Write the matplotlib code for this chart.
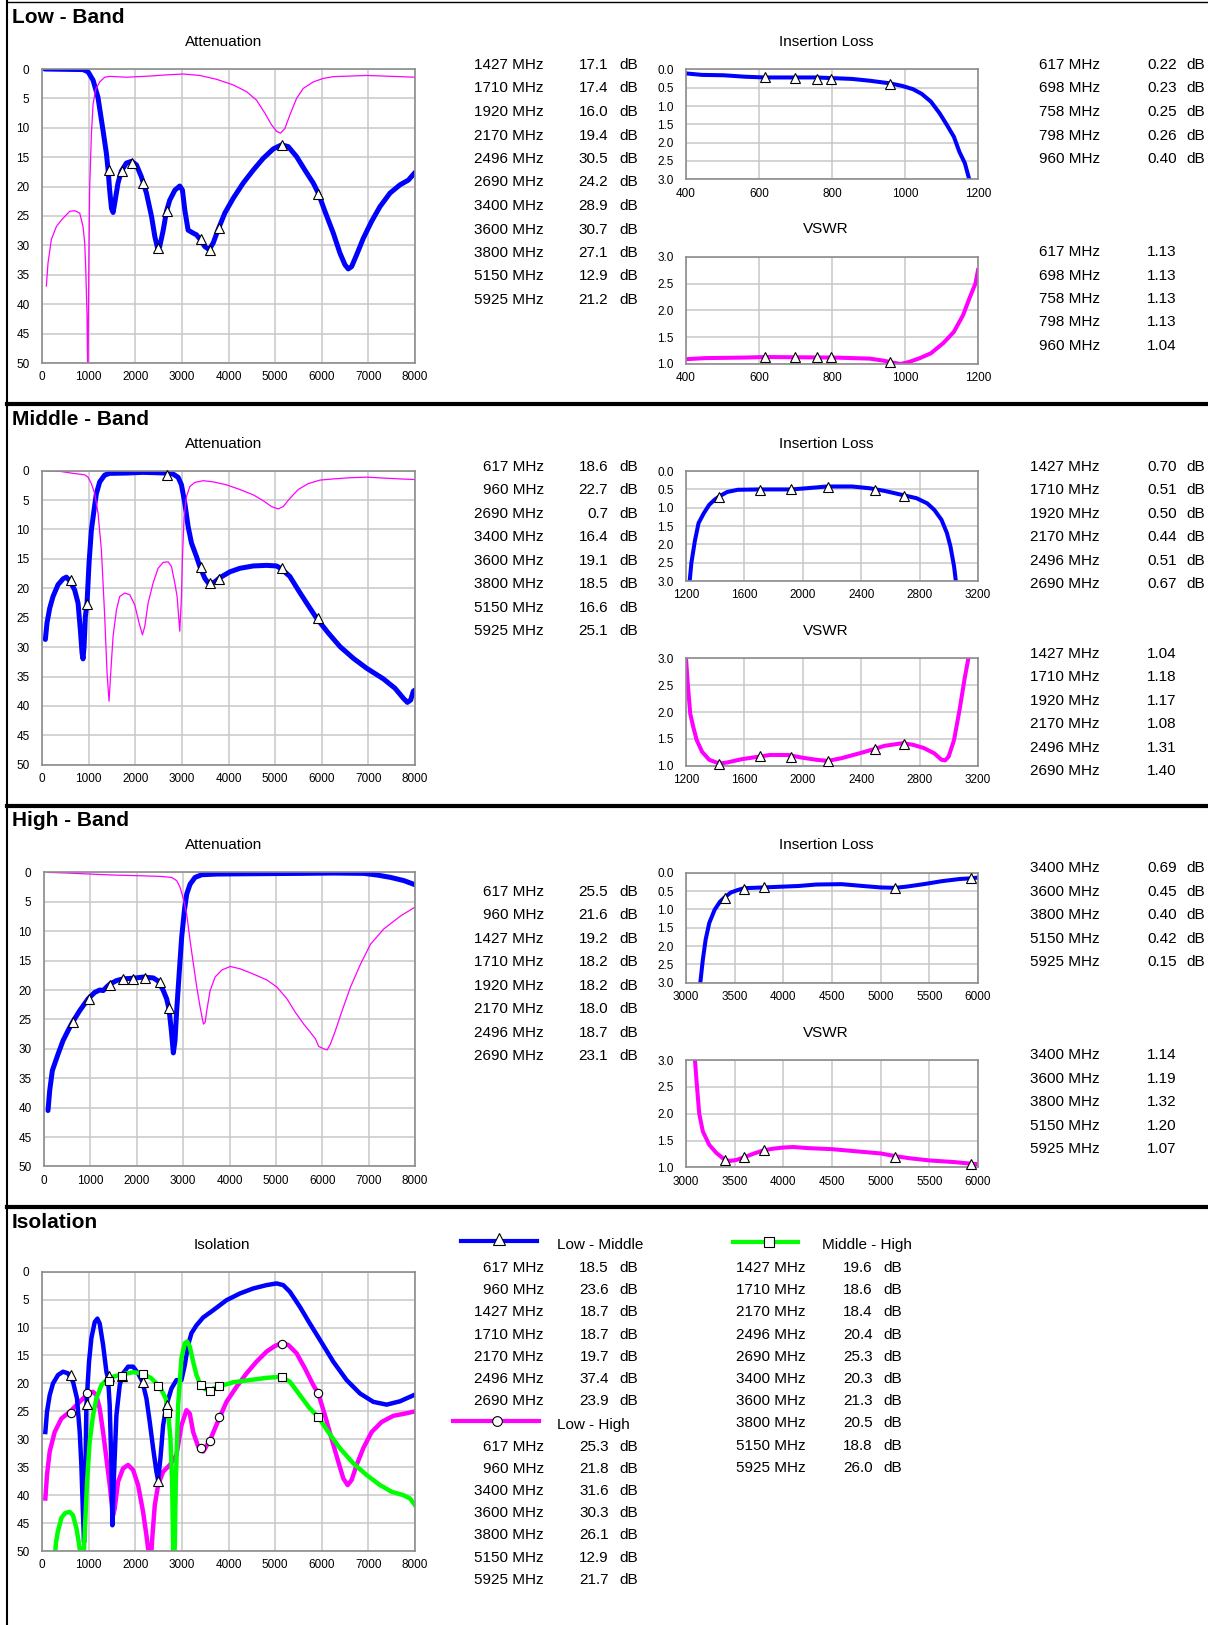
import matplotlib
matplotlib.use("Agg")
import matplotlib.pyplot as plt

plt.rcParams['font.family'] = ['Liberation Sans', 'DejaVu Sans']

W, H = 1208, 1625
BAND_DY = 401.7

# ---------------- Low band ----------------
low_att_f = [60, 880, 990, 1095, 1200, 1310, 1380, 1417, 1450, 1490, 1525, 1560, 1630, 1700, 1810, 1920, 2025, 2130,
             2240, 2350, 2420, 2480, 2525, 2600, 2670, 2740, 2850, 2955, 3012, 3063, 3134, 3240, 3313, 3385, 3492, 3585,
             3671, 3778, 3921, 4100, 4315, 4530, 4744, 4959, 5138, 5281, 5460, 5639, 5818, 5925, 6068, 6247, 6390, 6498,
             6569, 6641, 6748, 6891, 7070, 7249, 7464, 7678, 7857, 8000]
low_att_v = [0.0, 0.1, 0.5, 1.9, 4.8, 10.5, 14.3, 17.1, 20.5, 23.7, 24.4, 22.8, 19.4, 17.4, 16.0, 15.7, 16.3, 18.3,
             21.1, 25.1, 28.5, 30.5, 30.2, 27.4, 24.2, 22.3, 20.6, 19.9, 20.6, 24.0, 27.4, 27.9, 28.2, 28.9, 30.2, 30.7,
             29.6, 27.3, 24.5, 22.0, 19.4, 17.2, 15.2, 13.6, 12.9, 13.2, 14.9, 17.2, 19.4, 21.1, 24.2, 27.9, 31.3, 33.3,
             34.0, 33.6, 31.6, 28.8, 25.9, 23.4, 21.1, 19.7, 18.9, 17.6]
low_opp_f = [93, 129, 200, 308, 415, 487, 594, 701, 809, 880, 916, 937, 966, 985, 995, 1009, 1023, 1060, 1095, 1150,
             1238, 1345, 1452, 1810, 2311, 2669, 3027, 3385, 3743, 4100, 4387, 4601, 4780, 4923, 5031, 5117, 5210, 5317,
             5460, 5603, 5818, 6032, 6247, 6605, 6963, 7321, 7678, 8000]
low_opp_v = [36.9, 33.0, 29.0, 26.8, 25.7, 25.1, 24.2, 24.1, 24.5, 26.8, 29.6, 33.6, 42.0, 56.0, 42.0, 30.0, 20.0, 11.0,
             6.0, 3.5, 2.2, 1.4, 1.25, 1.4, 1.2, 1.0, 0.85, 1.1, 1.75, 2.7, 3.85, 5.3, 7.5, 9.5, 10.6, 10.9, 10.1, 7.8,
             5.0, 3.3, 2.2, 1.6, 1.3, 1.2, 1.1, 1.2, 1.3, 1.4]
low_att_mk_f = [1427, 1710, 1920, 2170, 2496, 2690, 3400, 3600, 3800, 5150, 5925]
low_att_mk_v = [17.1, 17.4, 16.0, 19.4, 30.5, 24.2, 28.9, 30.7, 27.1, 12.9, 21.2]

low_il_f = [400, 444, 503, 562, 615, 696, 757, 806, 855, 904, 958, 992, 1022, 1046, 1071, 1095, 1115, 1134, 1149,
            1164, 1176, 1185]
low_il_v = [0.11, 0.15, 0.16, 0.20, 0.22, 0.22, 0.22, 0.24, 0.26, 0.31, 0.38, 0.45, 0.54, 0.67, 0.88, 1.20, 1.52, 1.84,
            2.25, 2.56, 3.00, 3.3]
low_vs_f = [400, 454, 562, 615, 806, 904, 943, 963, 988, 1012, 1041, 1071, 1105, 1134, 1159, 1178, 1193, 1200]
low_vs_v = [1.09, 1.11, 1.12, 1.13, 1.12, 1.10, 1.06, 1.03, 1.00, 1.04, 1.11, 1.20, 1.39, 1.60, 1.91, 2.25, 2.50, 2.75]
low_mk_f = [617, 698, 758, 798, 960]
low_il_mk = [0.22, 0.23, 0.25, 0.26, 0.40]
low_vs_mk = [1.13, 1.13, 1.13, 1.13, 1.04]

# ---------------- Middle band ----------------
mid_att_f = [72, 107, 165, 236, 343, 451, 522, 594, 701, 773, 823, 859, 880, 902, 930, 966, 1009, 1059, 1116, 1166,
             1238, 1345, 1452, 1810, 2168, 2669, 2812, 2920, 2991, 3063, 3134, 3206, 3313, 3385, 3492, 3585, 3707, 3814,
             4029, 4244, 4530, 4816, 5031, 5138, 5317, 5496, 5675, 5890, 6140, 6390, 6676, 6963, 7321, 7571, 7750, 7836,
             7907, 7964, 8000]
mid_att_v = [28.7, 25.9, 23.4, 21.4, 19.4, 18.4, 18.1, 18.7, 20.3, 22.5, 27.1, 31.0, 32.0, 29.9, 24.8, 22.5, 15.7, 10.1,
             6.7, 3.9, 1.9, 0.74, 0.45, 0.4, 0.28, 0.4, 0.57, 1.13, 2.4, 5.5, 9.5, 12.3, 14.6, 16.3, 18.3, 19.3, 18.9,
             18.2, 17.2, 16.6, 16.2, 16.1, 16.2, 16.7, 18.0, 20.3, 22.5, 25.1, 27.6, 29.9, 31.9, 33.6, 35.4, 37.0, 38.7,
             39.4, 39.0, 37.5, 37.3]
mid_opp_f = [72, 379, 665, 916, 988, 1059, 1131, 1202, 1274, 1345, 1395, 1438, 1474, 1524, 1596, 1667, 1775, 1882,
             1989, 2082, 2154, 2204, 2276, 2383, 2490, 2598, 2705, 2777, 2848, 2898, 2955, 2991, 3013, 3048, 3099, 3170,
             3277, 3456, 3671, 3957, 4244, 4530, 4744, 4923, 5067, 5174, 5317, 5496, 5710, 5961, 6247, 6605, 6963, 7321,
             7678, 8000]
mid_opp_v = [0.0, 0.1, 0.45, 0.7, 1.1, 2.2, 3.9, 7.2, 13.5, 24.8, 34.4, 39.2, 34.4, 28.2, 23.7, 21.4, 20.8, 21.1,
             22.8, 25.9, 27.9, 26.5, 22.5, 19.1, 16.6, 15.6, 15.5, 16.3, 19.1, 21.4, 27.3, 21.4, 14.6, 7.8, 4.4, 2.7,
             2.0, 1.7, 1.9, 2.4, 3.2, 4.1, 5.1, 6.1, 6.5, 6.1, 4.7, 3.2, 2.2, 1.6, 1.4, 1.2, 1.1, 1.25, 1.4, 1.5]
mid_att_mk_f = [617, 960, 2690, 3400, 3600, 3800, 5150, 5925]
mid_att_mk_v = [18.6, 22.7, 0.7, 16.4, 19.1, 18.5, 16.6, 25.1]

mid_il_f = [1218, 1237, 1261, 1286, 1322, 1359, 1396, 1428, 1482, 1555, 1702, 1922, 2020, 2167, 2338, 2461, 2559,
            2681, 2779, 2852, 2901, 2950, 2987, 3011, 3036, 3048, 3055]
mid_il_v = [3.3, 2.5, 1.9, 1.42, 1.15, 0.92, 0.78, 0.69, 0.57, 0.51, 0.50, 0.50, 0.47, 0.42, 0.42, 0.47, 0.54, 0.65,
            0.74, 0.88, 1.06, 1.33, 1.69, 2.05, 2.6, 3.0, 3.3]
mid_vs_f = [1200, 1212, 1229, 1249, 1273, 1310, 1359, 1428, 1482, 1579, 1702, 1775, 1898, 1996, 2094, 2172, 2265,
            2387, 2490, 2559, 2686, 2754, 2828, 2901, 2950, 2975, 2999, 3036, 3073, 3110, 3134, 3150]
mid_vs_v = [3.0, 2.53, 1.97, 1.73, 1.48, 1.26, 1.11, 1.04, 1.06, 1.12, 1.17, 1.20, 1.20, 1.15, 1.11, 1.09, 1.14,
            1.23, 1.31, 1.37, 1.42, 1.39, 1.33, 1.23, 1.11, 1.10, 1.17, 1.48, 2.03, 2.65, 3.0, 3.2]
mid_mk_f = [1427, 1710, 1920, 2170, 2496, 2690]
mid_il_mk = [0.70, 0.51, 0.50, 0.44, 0.51, 0.67]
mid_vs_mk = [1.04, 1.18, 1.17, 1.08, 1.31, 1.40]

# ---------------- High band ----------------
high_att_f = [86, 123, 180, 303, 411, 519, 613, 771, 951, 1095, 1204, 1276, 1348, 1420, 1564, 1708, 1924, 2140, 2357,
              2465, 2573, 2645, 2695, 2746, 2789, 2825, 2861, 2919, 2969, 3027, 3077, 3150, 3257, 3402, 3726, 4447,
              5528, 6248, 6897, 7185, 7474, 7762, 8000]
high_att_v = [40.5, 37.1, 33.7, 30.9, 28.6, 26.9, 25.5, 23.5, 21.5, 20.4, 20.0, 20.1, 19.5, 19.0, 18.4, 18.1, 18.0,
              17.8, 17.95, 18.5, 20.1, 21.5, 23.2, 26.9, 30.7, 28.6, 23.5, 16.7, 11.0, 6.5, 3.7, 2.0, 0.85, 0.4, 0.28,
              0.23, 0.17, 0.11, 0.17, 0.45, 0.85, 1.4, 2.1]
high_opp_f = [86, 483, 987, 1492, 2068, 2501, 2753, 2861, 2933, 3005, 3077, 3150, 3222, 3294, 3366, 3438, 3474, 3510,
              3582, 3690, 3834, 4014, 4231, 4519, 4807, 5023, 5239, 5420, 5600, 5744, 5852, 5924, 6032, 6104, 6176,
              6284, 6429, 6609, 6825, 7041, 7329, 7690, 8000]
high_opp_v = [0.0, 0.1, 0.28, 0.45, 0.57, 0.68, 0.85, 1.4, 2.5, 4.5, 7.1, 11.6, 15.6, 19.5, 22.9, 25.8, 25.5, 23.5,
              20.1, 17.8, 16.6, 16.0, 16.4, 17.3, 18.3, 19.5, 21.5, 23.8, 25.8, 27.2, 28.3, 29.6, 30.0, 30.2, 29.2,
              26.9, 23.5, 19.5, 15.6, 12.2, 9.6, 7.4, 5.9]
high_att_mk_f = [617, 960, 1427, 1710, 1920, 2170, 2496, 2690]
high_att_mk_v = [25.5, 21.6, 19.2, 18.2, 18.2, 18.0, 18.7, 23.1]

high_il_f = [3140, 3147, 3173, 3202, 3239, 3294, 3349, 3393, 3459, 3532, 3599, 3790, 3973, 4157, 4340, 4597, 4818,
             5001, 5148, 5258, 5442, 5626, 5809, 5926, 6000]
high_il_v = [3.3, 3.0, 2.37, 1.82, 1.37, 1.01, 0.79, 0.68, 0.54, 0.47, 0.42, 0.40, 0.38, 0.36, 0.32, 0.31, 0.36, 0.40,
             0.41, 0.38, 0.31, 0.23, 0.17, 0.15, 0.13]
high_vs_f = [3085, 3092, 3110, 3136, 3173, 3239, 3312, 3393, 3450, 3520, 3600, 3700, 3800, 3900, 4000, 4100, 4250,
             4500, 4750, 5000, 5150, 5300, 5500, 5750, 5925, 6000]
high_vs_v = [3.2, 3.0, 2.57, 2.0, 1.67, 1.42, 1.27, 1.15, 1.12, 1.14, 1.19, 1.26, 1.32, 1.35, 1.37, 1.38, 1.36, 1.34,
             1.30, 1.26, 1.21, 1.17, 1.13, 1.10, 1.07, 1.06]
high_mk_f = [3400, 3600, 3800, 5150, 5925]
high_il_mk = [0.69, 0.45, 0.40, 0.42, 0.15]
high_vs_mk = [1.14, 1.19, 1.32, 1.20, 1.07]

# ---------------- Isolation ----------------
iso_lm_f = [72, 107, 165, 236, 343, 451, 558, 665, 751, 809, 844, 880, 902, 923, 952, 1009, 1059, 1131, 1188, 1238,
            1310, 1381, 1417, 1452, 1488, 1510, 1538, 1596, 1667, 1739, 1846, 1954, 2061, 2154, 2240, 2311, 2383, 2454,
            2490, 2540, 2598, 2669, 2777, 2884, 2991, 3063, 3134, 3206, 3313, 3456, 3671, 3957, 4244, 4530, 4816,
            5031, 5174, 5317, 5532, 5746, 5961, 6247, 6533, 6820, 7106, 7392, 7678, 8000]
iso_lm_v = [28.7, 25.1, 22.1, 20.0, 18.5, 17.9, 18.2, 19.7, 22.7, 28.7, 34.6, 43.6, 48.4, 40.6, 23.9, 16.1, 11.9, 9.0,
            8.4, 9.3, 13.1, 17.9, 19.1, 23.9, 34.6, 45.4, 37.6, 25.7, 20.3, 18.2, 17.0, 17.0, 18.2, 19.7, 22.7, 26.9,
            31.6, 35.8, 37.3, 33.4, 27.5, 23.9, 20.9, 19.4, 19.4, 16.7, 13.1, 11.0, 9.6, 8.2, 6.9, 5.1, 3.9, 3.0, 2.4,
            2.1, 2.4, 3.6, 6.3, 9.3, 12.2, 16.1, 19.4, 21.8, 23.3, 23.8, 23.2, 22.0]
iso_lh_f = [72, 107, 165, 272, 415, 594, 737, 880, 988, 1095, 1166, 1238, 1310, 1381, 1452, 1524, 1560, 1632, 1739,
            1846, 1954, 2061, 2168, 2240, 2297, 2333, 2369, 2419, 2490, 2598, 2741, 2884, 2991, 3099, 3170, 3242, 3349,
            3456, 3542, 3614, 3707, 3814, 3957, 4172, 4387, 4601, 4816, 4995, 5138, 5281, 5460, 5639, 5818, 5925, 6068,
            6211, 6354, 6462, 6555, 6641, 6748, 6891, 7070, 7285, 7535, 7785, 8000]
iso_lh_v = [40.6, 36.4, 32.2, 28.7, 26.3, 25.1, 23.9, 22.7, 21.8, 21.5, 22.1, 24.5, 28.7, 33.4, 38.2, 43.6, 42.4, 37.6,
            35.2, 34.6, 35.5, 38.2, 43.0, 47.2, 51.0, 52.0, 47.2, 41.8, 38.2, 35.8, 34.6, 32.8, 27.5, 24.8, 25.4, 28.7,
            31.3, 32.2, 31.0, 30.0, 28.1, 26.0, 23.3, 20.6, 18.2, 16.1, 14.3, 13.3, 12.8, 13.1, 14.6, 17.3, 20.3, 21.8,
            25.7, 29.9, 34.0, 37.0, 38.2, 37.3, 34.6, 31.6, 28.7, 26.9, 25.8, 25.4, 25.0]
iso_mh_f = [265, 300, 340, 420, 500, 594, 665, 740, 800, 840, 880, 916, 966, 1023, 1095, 1166, 1274, 1381, 1524, 1703,
            1954, 2168, 2347, 2526, 2655, 2705, 2755, 2791, 2812, 2822, 2848, 2870, 2920, 2991, 3063, 3113, 3170, 3242,
            3313, 3385, 3492, 3600, 3700, 3814, 4100, 4458, 4816, 5138, 5317, 5532, 5746, 5925, 6140, 6390, 6676, 6963,
            7249, 7500, 7750, 7893, 8000]
iso_mh_v = [52.0, 48.5, 46.5, 44.0, 43.2, 43.0, 43.6, 46.0, 49.0, 52.0, 53.0, 47.0, 37.6, 30.4, 25.7, 22.7, 20.3,
            19.4, 18.8, 18.4, 18.0, 18.2, 19.1, 20.6, 22.7, 25.1, 29.9, 37.6, 49.0, 55.0, 49.0, 37.6, 23.9, 15.5, 12.8,
            12.5, 13.4, 16.1, 18.5, 20.0, 21.0, 21.3, 20.8, 20.5, 19.8, 19.4, 19.0, 18.8, 19.7, 22.1, 24.5, 26.0, 28.7,
            31.6, 34.3, 36.4, 38.2, 39.4, 40.0, 40.6, 41.8]
iso_lm_mk_f = [617, 960, 1427, 1710, 2170, 2496, 2690]
iso_lm_mk_v = [18.5, 23.6, 18.7, 18.7, 19.7, 37.4, 23.9]
iso_lh_mk_f = [617, 960, 3400, 3600, 3800, 5150, 5925]
iso_lh_mk_v = [25.3, 21.8, 31.6, 30.3, 26.1, 12.9, 21.7]
iso_mh_mk_f = [1427, 1710, 2170, 2496, 2690, 3400, 3600, 3800, 5150, 5925]
iso_mh_mk_v = [19.6, 18.6, 18.4, 20.4, 25.3, 20.3, 21.3, 20.5, 18.8, 26.0]

BLUE, MAG, GREEN = '#0000ff', '#ff00ff', '#00ff00'

fig = plt.figure(figsize=(W / 100, H / 100), dpi=100)
ov = fig.add_axes([0, 0, 1, 1])
ov.set_xlim(0, W)
ov.set_ylim(H, 0)
ov.axis('off')


def px_axes(l, t, r, b):
    return fig.add_axes([l / W, 1 - b / H, (r - l) / W, (b - t) / H])


def style(ax, xlim, xticks, ylim, yticks, yfmt):
    ax.set_xlim(*xlim)
    ax.set_ylim(*ylim)
    ax.set_xticks(xticks)
    ax.set_yticks(yticks)
    ax.set_yticklabels([yfmt.format(v) for v in yticks])
    ax.grid(True, color='#c8c8c8', lw=1.1)
    ax.set_axisbelow(True)
    for s in ax.spines.values():
        s.set_color('#8c8c8c')
        s.set_linewidth(1.2)
    ax.tick_params(axis='x', length=0, labelsize=8.5, pad=6)
    ax.tick_params(axis='y', length=0, labelsize=8.5, pad=9)


def marks(ax, f, v, m, ms=7):
    ax.plot(f, v, ls='none', marker=m, ms=ms, mfc='white', mec='black', mew=0.8, zorder=5, clip_on=False)


def txt(x, y, s, **kw):
    kw.setdefault('fontsize', 11)
    kw.setdefault('va', 'center')
    ov.text(x, y, s, **kw)


def band(k, name, att, opp, att_mk, il, vs, mk_f, il_mk, vs_mk, xr, xt, row_shift, att_left=42):
    dy = k * BAND_DY
    txt(12, 17.5 + dy, name, fontsize=15, fontweight='bold')
    txt(224, 42 + dy, 'Attenuation', ha='center')
    ax = px_axes(att_left, 69 + dy, 415, 363 + dy)
    style(ax, (0, 8000), range(0, 8001, 1000), (50, 0), range(0, 51, 5), '{:d}')
    ax.plot(att[0], att[1], color=BLUE, lw=3.6, solid_joinstyle='round', solid_capstyle='round')
    ax.plot(opp[0], opp[1], color=MAG, lw=0.9)
    marks(ax, att_mk[0], att_mk[1], '^')
    for i, (f, v) in enumerate(zip(att_mk[0], att_mk[1])):
        y = 65 + dy + row_shift + i * 23.5
        txt(544, y, f'{f} MHz', ha='right')
        txt(608, y, f'{v:.1f}', ha='right')
        txt(619, y, 'dB')

    txt(826, 42 + dy, 'Insertion Loss', ha='center')
    ax = px_axes(686, 69.4 + dy, 978, 179.3 + dy)
    style(ax, xr, xt, (3, 0), [0, 0.5, 1, 1.5, 2, 2.5, 3], '{:.1f}')
    ax.plot(il[0], il[1], color=BLUE, lw=2.9, solid_joinstyle='round')
    marks(ax, mk_f, il_mk, '^', 6.5)

    txt(826, 229.3 + dy, 'VSWR', ha='center')
    ax = px_axes(686, 256.7 + dy, 978, 364 + dy)
    style(ax, xr, xt, (1, 3), [1, 1.5, 2, 2.5, 3], '{:.1f}')
    ax.plot(vs[0], vs[1], color=MAG, lw=2.9, solid_joinstyle='round')
    marks(ax, mk_f, vs_mk, '^', 6.5)

    for i, f in enumerate(mk_f):
        y = 65 + dy + i * 23.5
        txt(1100, y, f'{f} MHz', ha='right')
        txt(1147, y, f'{il_mk[i]:.2f}')
        txt(1186, y, 'dB')
        y2 = 252 + dy + i * 23.5
        txt(1100, y2, f'{f} MHz', ha='right')
        txt(1147, y2, f'{vs_mk[i]:.2f}')


band(0, 'Low - Band', (low_att_f, low_att_v), (low_opp_f, low_opp_v), (low_att_mk_f, low_att_mk_v),
     (low_il_f, low_il_v), (low_vs_f, low_vs_v), low_mk_f, low_il_mk, low_vs_mk,
     (400, 1200), range(400, 1201, 200), 0)
band(1, 'Middle - Band', (mid_att_f, mid_att_v), (mid_opp_f, mid_opp_v), (mid_att_mk_f, mid_att_mk_v),
     (mid_il_f, mid_il_v), (mid_vs_f, mid_vs_v), mid_mk_f, mid_il_mk, mid_vs_mk,
     (1200, 3200), range(1200, 3201, 400), 0)
band(2, 'High - Band', (high_att_f, high_att_v), (high_opp_f, high_opp_v), (high_att_mk_f, high_att_mk_v),
     (high_il_f, high_il_v), (high_vs_f, high_vs_v), high_mk_f, high_il_mk, high_vs_mk,
     (3000, 6000), range(3000, 6001, 500), 23.5, att_left=44)

# ---------------- Isolation section ----------------
dy = 3 * BAND_DY
txt(12, 17.5 + dy, 'Isolation', fontsize=15, fontweight='bold')
txt(222, 1245, 'Isolation', ha='center')
ax = px_axes(42, 1271.7, 415, 1551)
style(ax, (0, 8000), range(0, 8001, 1000), (50, 0), range(0, 51, 5), '{:d}')
ax.plot(iso_lh_f, iso_lh_v, color=MAG, lw=3.2, solid_joinstyle='round')
ax.plot(iso_lm_f, iso_lm_v, color=BLUE, lw=3.2, solid_joinstyle='round')
ax.plot(iso_mh_f, iso_mh_v, color=GREEN, lw=3.2, solid_joinstyle='round')
marks(ax, iso_lm_mk_f, iso_lm_mk_v, '^', 6.5)
marks(ax, iso_lh_mk_f, iso_lh_mk_v, 'o', 6)
marks(ax, iso_mh_mk_f, iso_mh_mk_v, 's', 6)

# legend keys
ov.plot([461, 537], [1241, 1241], color=BLUE, lw=3)
ov.plot([499], [1239], marker='^', ms=8, mfc='white', mec='black', mew=0.8)
ov.plot([453, 539], [1421, 1421], color=MAG, lw=3)
ov.plot([497], [1421], marker='o', ms=7, mfc='white', mec='black', mew=0.8)
ov.plot([733, 798], [1242, 1242], color=GREEN, lw=3)
ov.plot([769], [1242], marker='s', ms=7, mfc='white', mec='black', mew=0.8)
txt(557, 1245, 'Low - Middle')
txt(557, 1425, 'Low - High')
txt(822, 1245, 'Middle - High')

for i, (f, v) in enumerate(zip(iso_lm_mk_f, iso_lm_mk_v)):
    y = 1268 + i * 22.2
    txt(544, y, f'{f} MHz', ha='right')
    txt(609, y, f'{v:.1f}', ha='right')
    txt(619, y, 'dB')
for i, (f, v) in enumerate(zip(iso_lh_mk_f, iso_lh_mk_v)):
    y = 1447 + i * 22.1
    txt(544, y, f'{f} MHz', ha='right')
    txt(609, y, f'{v:.1f}', ha='right')
    txt(619, y, 'dB')
for i, (f, v) in enumerate(zip(iso_mh_mk_f, iso_mh_mk_v)):
    y = 1268 + i * 22.2
    txt(806, y, f'{f} MHz', ha='right')
    txt(873, y, f'{v:.1f}', ha='right')
    txt(883, y, 'dB')

# page frame and section dividers
ov.plot([7, 7], [0, H], color='black', lw=1.5)
ov.plot([7, W], [2, 2], color='black', lw=1.0)
for k in range(1, 4):
    yy = 404 + (k - 1) * BAND_DY
    ov.plot([7, W], [yy, yy], color='black', lw=3)

fig.savefig('out.png', dpi=100)
